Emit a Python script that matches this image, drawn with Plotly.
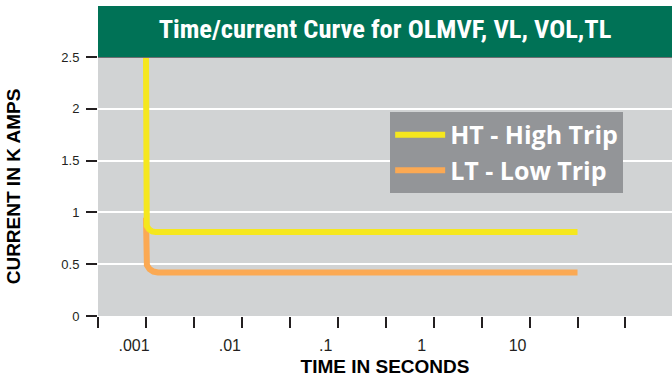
import plotly.graph_objects as go

# Time (seconds) / current (kA) points for each trip curve
ht_time = [0.001, 0.001, 0.001018, 0.001073, 0.001159, 0.00127, 31.6]
ht_kamps = [2.5, 0.907, 0.87, 0.838, 0.817, 0.81, 0.81]

lt_time = [0.001, 0.001, 0.001022, 0.001088, 0.001194, 0.001334, 31.6]
lt_kamps = [0.95, 0.536, 0.4915, 0.454, 0.429, 0.42, 0.42]

# Axis ticks: marks every half decade, labels on whole decades
x_tick_vals = [0.00031623, 0.001, 0.0031623, 0.01, 0.031623, 0.1, 0.31623, 1, 3.1623, 10, 31.623, 100]
x_tick_text = ["", ".001", "", ".01", "", ".1", "", "1", "", "10", "", ""]
y_tick_vals = [0, 0.5, 1, 1.5, 2, 2.5]
y_tick_text = ["0", "0.5", "1", "1.5", "2", "2.5"]

GREEN = "#007256"
YELLOW = "#F5E71E"
ORANGE = "#FBA953"
PLOT_BG = "#D1D3D4"
INK = "#231F20"
SANS = "Liberation Sans, Arial, sans-serif"

fig = go.Figure()
fig.add_trace(go.Scatter(x=lt_time, y=lt_kamps, mode="lines", name="LT - Low Trip",
                         line=dict(color=ORANGE, width=6)))
fig.add_trace(go.Scatter(x=ht_time, y=ht_kamps, mode="lines", name="HT - High Trip",
                         line=dict(color=YELLOW, width=6)))

fig.update_layout(
    width=672, height=377,
    margin=dict(l=98, r=0, t=57, b=61),
    paper_bgcolor="white",
    plot_bgcolor=PLOT_BG,
    title=dict(text="Time/current Curve for OLMVF, VL, VOL,TL",
               x=0.5, xref="paper", xanchor="center",
               y=0.925, yref="container", yanchor="middle",
               font=dict(family="Roboto Condensed, DejaVu Sans Condensed, Roboto, sans-serif",
                         size=26.5, color="white", weight="bold")),
    legend=dict(x=0.509, y=0.788, xanchor="left", yanchor="top",
                bgcolor="#939598", borderwidth=0, traceorder="reversed",
                itemwidth=50,
                font=dict(family="Open Sans, sans-serif", size=25, color="white", weight="bold")),
    shapes=[
        dict(type="rect", xref="paper", yref="paper", x0=0, x1=1, y0=1, y1=1.197,
             fillcolor=GREEN, line=dict(width=0), layer="above"),
        dict(type="line", xref="paper", yref="y", x0=0, x1=1, y0=2.5, y1=2.5,
             line=dict(color="#6D6E71", width=2), layer="above"),
    ],
)

fig.update_xaxes(
    type="log", range=[-3.5005, 2.485],
    tickmode="array", tickvals=x_tick_vals, ticktext=x_tick_text,
    ticks="outside", ticklen=11, tickwidth=1.5, tickcolor=INK,
    ticklabelshift=-12, ticklabelstandoff=4,
    showgrid=False, zeroline=False, showline=False,
    tickfont=dict(family=SANS, size=16, color=INK),
    title=dict(text="TIME IN SECONDS", standoff=7,
               font=dict(family=SANS, size=19, color="black", weight="bold")),
)
fig.update_yaxes(
    range=[0, 2.5],
    tickmode="array", tickvals=y_tick_vals, ticktext=y_tick_text,
    ticks="outside", ticklen=11, tickwidth=1.5, tickcolor=INK,
    ticklabelstandoff=4,
    showgrid=True, gridcolor="white", gridwidth=2,
    zeroline=False, showline=False,
    tickfont=dict(family=SANS, size=13, color=INK),
    title=dict(text="CURRENT IN K AMPS", standoff=35,
               font=dict(family=SANS, size=19, color="black", weight="bold")),
)

fig.write_html("out.html")
